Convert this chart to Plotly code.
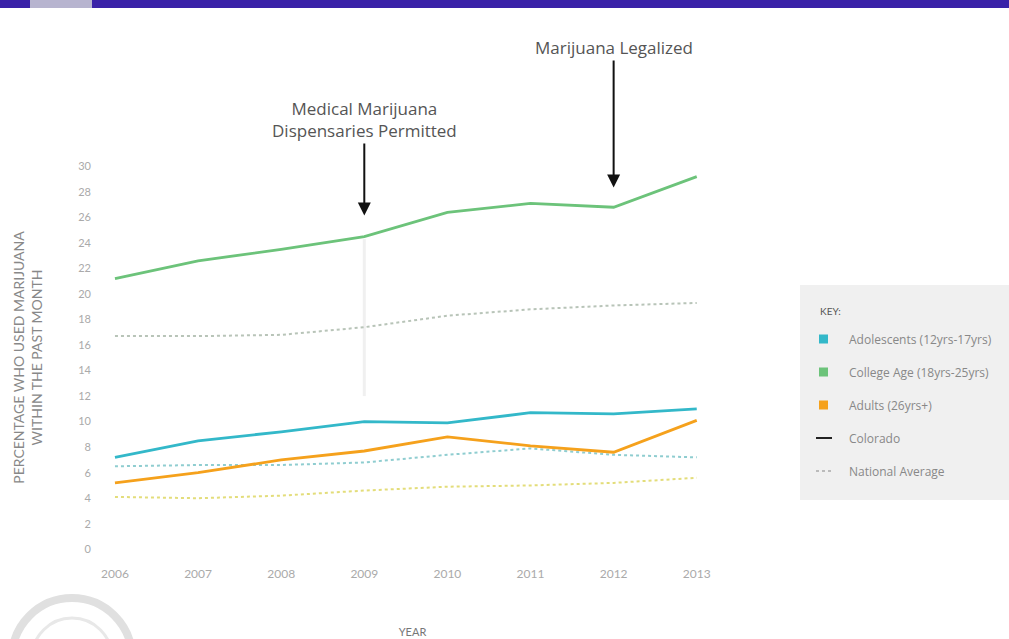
import plotly.graph_objects as go

years = [2006, 2007, 2008, 2009, 2010, 2011, 2012, 2013]
adolescents_co = [7.2, 8.5, 9.2, 10.0, 9.9, 10.7, 10.6, 11.0]
college_co = [21.2, 22.6, 23.5, 24.5, 26.4, 27.1, 26.8, 29.2]
adults_co = [5.2, 6.0, 7.0, 7.7, 8.8, 8.1, 7.6, 10.1]
adolescents_nat = [6.5, 6.6, 6.6, 6.8, 7.4, 7.9, 7.4, 7.2]
college_nat = [16.7, 16.7, 16.8, 17.4, 18.3, 18.8, 19.1, 19.3]
adults_nat = [4.1, 4.0, 4.2, 4.6, 4.9, 5.0, 5.2, 5.6]
y_ticks = list(range(0, 31, 2))

teal = "#33b8c9"
green = "#6cc37a"
orange = "#f5a11c"
teal_d = "#8fcdd0"
green_d = "#b8c4b8"
yellow_d = "#e3dd7a"
FONT = "Lato"
AFONT = "Open Sans"

fig = go.Figure()
for ys, c in [(college_nat, green_d), (adolescents_nat, teal_d), (adults_nat, yellow_d)]:
    fig.add_trace(go.Scatter(x=years, y=ys, mode="lines",
                             line=dict(color=c, width=2, dash="dot"),
                             showlegend=False, hoverinfo="skip"))
for ys, c in [(college_co, green), (adolescents_co, teal), (adults_co, orange)]:
    fig.add_trace(go.Scatter(x=years, y=ys, mode="lines",
                             line=dict(color=c, width=2.8),
                             showlegend=False))

PW, PH, L, T = 625.0, 395.0, 100.0, 160.0


def px(x):
    return (x - L) / PW


def py(y):
    return 1 - (y - T) / PH


shapes = [
    # top band
    dict(type="rect", xref="paper", yref="paper", x0=px(-5), x1=px(1015), y0=py(8), y1=py(-5),
         fillcolor="#3a22a8", line=dict(width=0), layer="above"),
    dict(type="rect", xref="paper", yref="paper", x0=px(30), x1=px(92), y0=py(8), y1=py(-5),
         fillcolor="#b7b4cf", line=dict(width=0), layer="above"),
    # faint line at 2009
    dict(type="line", x0=2009, x1=2009, y0=12, y1=24.3, xref="x", yref="y",
         line=dict(color="#f0f0f0", width=3), layer="below"),
    # legend box
    dict(type="rect", xref="paper", yref="paper", x0=px(800), x1=px(1015), y0=py(500), y1=py(285),
         fillcolor="#f0f0f0", line=dict(width=0)),
    # faint logo rings
    dict(type="circle", xref="paper", yref="paper", x0=px(12), x1=px(132), y0=py(718), y1=py(598),
         line=dict(color="#e0e0e0", width=8)),
    dict(type="circle", xref="paper", yref="paper", x0=px(32), x1=px(112), y0=py(698), y1=py(618),
         line=dict(color="#e8e8e8", width=3)),
]

legend_items = [
    ("Adolescents (12yrs-17yrs)", teal, "sq"),
    ("College Age (18yrs-25yrs)", green, "sq"),
    ("Adults (26yrs+)", orange, "sq"),
    ("Colorado", "#222222", "line"),
    ("National Average", "#bbbbbb", "dot"),
]
annotations = [
    dict(text="KEY:", xref="paper", yref="paper", x=px(818), y=py(311), showarrow=False,
         xanchor="left", yanchor="middle", font=dict(size=10, color="#555", family=FONT)),
]
for i, (name, col, kind) in enumerate(legend_items):
    yc = 339 + 33 * i
    if kind == "sq":
        shapes.append(dict(type="rect", xref="paper", yref="paper",
                           x0=px(819), x1=px(828), y0=py(yc + 4.5), y1=py(yc - 4.5),
                           fillcolor=col, line=dict(width=0)))
    else:
        shapes.append(dict(type="line", xref="paper", yref="paper",
                           x0=px(816), x1=px(832), y0=py(yc), y1=py(yc),
                           line=dict(color=col, width=2, dash="solid" if kind == "line" else "dot")))
    annotations.append(dict(text=name, xref="paper", yref="paper", x=px(847), y=py(yc),
                            showarrow=False, xanchor="left", yanchor="middle",
                            font=dict(size=12, color="#888", family=AFONT)))

annotations += [
    dict(text="Medical Marijuana<br>Dispensaries Permitted", x=2009, y=26.15, xref="x", yref="y",
         ax=0, ay=-96, showarrow=True, arrowhead=2, arrowsize=1.3, arrowwidth=2,
         arrowcolor="#111", font=dict(size=17, color="#555", family=AFONT)),
    dict(text="Marijuana Legalized", x=2012, y=28.35, xref="x", yref="y",
         ax=0, ay=-140, showarrow=True, arrowhead=2, arrowsize=1.3, arrowwidth=2,
         arrowcolor="#111", font=dict(size=17, color="#555", family=AFONT)),
]

fig.update_layout(
    width=1009, height=639,
    margin=dict(l=100, r=284, t=160, b=84, autoexpand=False),
    paper_bgcolor="white", plot_bgcolor="white",
    font=dict(family=FONT, color="#999"),
    shapes=shapes, annotations=annotations,
    xaxis=dict(range=[2005.82, 2013.34], tickvals=years, showgrid=False, zeroline=False,
               showline=False, automargin=False, ticklabelstandoff=10,
               tickfont=dict(size=12, color="#aaa", family=FONT),
               title=dict(text="YEAR", font=dict(size=11, color="#777", family=FONT), standoff=48)),
    yaxis=dict(range=[-0.45, 30.5], tickvals=y_ticks, showgrid=False, zeroline=False,
               showline=False, automargin=False, tickfont=dict(size=11, color="#aaa", family=FONT),
               ticklabelstandoff=8,
               title=dict(text="PERCENTAGE WHO USED MARIJUANA<br>WITHIN THE PAST MONTH",
                          font=dict(size=14, color="#888", family=FONT), standoff=32)),
)

fig.write_html("out.html", config={"displayModeBar": False},
               post_script="document.body.style.margin='0';")
